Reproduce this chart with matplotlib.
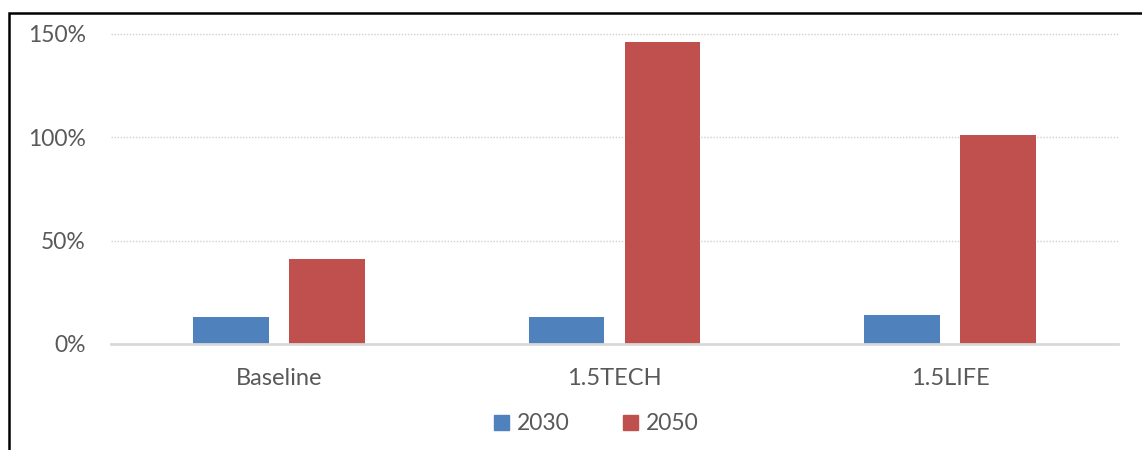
import matplotlib
matplotlib.use('Agg')
import matplotlib.pyplot as plt
import matplotlib.patches as mpatches
import numpy as np

# scenario results, share in percent
scenarios = ['Baseline', '1.5TECH', '1.5LIFE']
years = ['2030', '2050']
vals_2030 = [13.1, 13.2, 13.9]
vals_2050 = [41.1, 146.0, 101.3]
yticks = [0, 50, 100, 150]

blue = '#4f81bd'
red = '#c0504d'
grey = '#595959'

plt.rcParams['font.family'] = ['Lato', 'DejaVu Sans']

fig = plt.figure(figsize=(11.42, 4.5), dpi=100)
ax = fig.add_axes([111 / 1142, 106 / 450, 1007 / 1142, 310 / 450])

x = np.arange(len(scenarios))
w = 0.226
off = 0.143
ax.bar(x - off, vals_2030, w, color=blue, zorder=3)
ax.bar(x + off, vals_2050, w, color=red, zorder=3)

ax.set_xlim(-0.5, 2.5)
ax.set_ylim(0, 150)
ax.set_yticks(yticks)
ax.set_yticklabels([f'{t}%' for t in yticks])
ax.set_xticks(x)
ax.set_xticklabels(scenarios)
ax.tick_params(axis='both', length=0, colors=grey)
ax.tick_params(axis='y', pad=18, labelsize=16.5)
ax.tick_params(axis='x', pad=17, labelsize=17)

# dotted gridlines, solid zero line
for t in yticks[1:]:
    ax.axhline(t, color='#d0d0d0', lw=1.0, ls=(0, (1, 1.2)), zorder=1, clip_on=False)
ax.axhline(0, color='#d9d9d9', lw=2, zorder=4, clip_on=False)

for s in ax.spines.values():
    s.set_visible(False)

handles = [mpatches.Patch(color=blue, label=years[0]),
           mpatches.Patch(color=red, label=years[1])]
fig.legend(handles=handles, loc='center', bbox_to_anchor=(0.5223, 0.058), ncol=2,
           frameon=False, fontsize=16.5, labelcolor=grey, handlelength=0.65,
           handleheight=0.65, handletextpad=0.35, columnspacing=2.3)

# outer frame of the chart
frame = mpatches.Rectangle((9 / 1142, -0.1), 1.1, 1.1 - 13 / 450, transform=fig.transFigure,
                           fill=False, edgecolor='black', lw=1.8, clip_on=False)
fig.patches.append(frame)

fig.savefig('out.png', dpi=100)
